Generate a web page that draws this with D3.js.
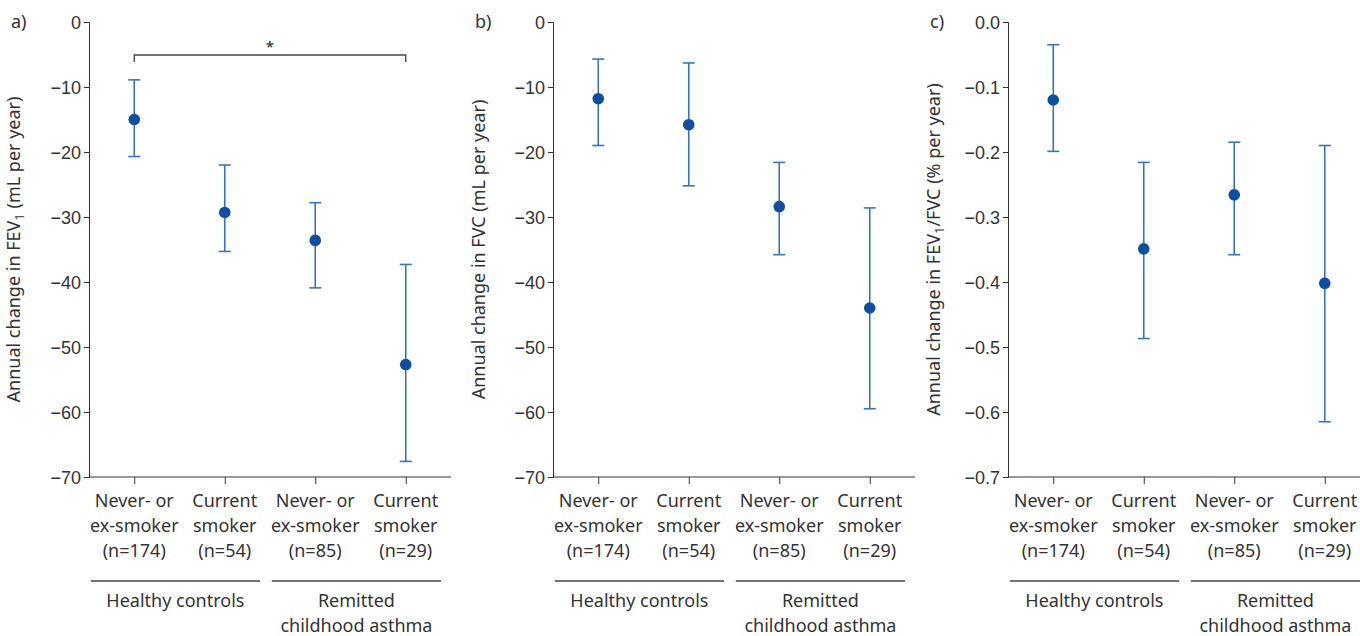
<!DOCTYPE html>
<html>
<head>
<meta charset="utf-8">
<style>
body { margin: 0; background: #fff; }
svg { font-family: "Noto Sans", sans-serif; }
.axis path, .axis line { stroke: #333; }
.axis text { fill: #333; font-size: 18px; }
</style>
</head>
<body>
<svg id="chart" width="1360" height="636"></svg>
<script src="https://d3js.org/d3.v7.min.js"></script>
<script>

// categories (each label is drawn on three lines)
const categories = ["hc_never", "hc_current", "rca_never", "rca_current"];
const catLine1 = ["Never- or", "Current", "Never- or", "Current"];
const catLine2 = ["ex-smoker", "smoker", "ex-smoker", "smoker"];
const catLine3 = ["(n=174)", "(n=54)", "(n=85)", "(n=29)"];
const groupLabels = [["Healthy controls"], ["Remitted", "childhood asthma"]];

// a) FEV1 mL per year
const fev1Mean = [-15.0, -29.3, -33.6, -52.7];
const fev1Upper = [-8.9, -22.0, -27.8, -37.3];
const fev1Lower = [-20.7, -35.3, -40.9, -67.6];

// b) FVC mL per year
const fvcMean = [-11.8, -15.8, -28.4, -44.0];
const fvcUpper = [-5.7, -6.3, -21.6, -28.6];
const fvcLower = [-19.0, -25.2, -35.8, -59.5];

// c) FEV1/FVC % per year
const ratioMean = [-0.120, -0.349, -0.266, -0.402];
const ratioUpper = [-0.035, -0.216, -0.185, -0.190];
const ratioLower = [-0.199, -0.487, -0.358, -0.615];

const mlTicks = [0, -10, -20, -30, -40, -50, -60, -70];
const pctTicks = [0, -0.1, -0.2, -0.3, -0.4, -0.5, -0.6, -0.7];

const svg = d3.select("#chart");
const yTop = 22, yBottom = 477, plotW = 362;
const errColor = "#3a74b5", dotColor = "#0f4f9b";
const fs = 18;

function panel(opts) {
    const g = svg.append("g").attr("transform", "translate(" + opts.x + ",0)");

    const x = d3.scalePoint().domain(categories).range([0, plotW]).padding(0.5);
    const y = d3.scaleLinear().domain([0, opts.min]).range([yTop, yBottom]);

    g.append("g")
        .attr("class", "axis")
        .call(d3.axisLeft(y).tickValues(opts.ticks).tickFormat(opts.fmt).tickSizeOuter(0).tickSize(5).tickPadding(3))
        .call(s => s.selectAll("text").attr("dy", "0.36em"));

    const xa = g.append("g")
        .attr("class", "axis")
        .attr("transform", "translate(0," + yBottom + ")")
        .call(d3.axisBottom(x).tickSizeOuter(0).tickSize(7).tickFormat(""));
    xa.select("path").attr("d", "M0,0H" + plotW);

    // multi-line category labels
    const lab = g.append("g").selectAll("text")
        .data(categories)
        .join("text")
        .attr("text-anchor", "middle")
        .attr("font-size", fs)
        .attr("fill", "#333");
    [catLine1, catLine2, catLine3].forEach((lines, k) => {
        lab.append("tspan")
            .attr("x", d => x(d))
            .attr("y", 507 + k * 25)
            .text((d, i) => lines[i]);
    });

    // group lines and labels
    const step = x.step();
    const grp = [[0, 1], [2, 3]];
    grp.forEach((pair, gi) => {
        const x0 = x(categories[pair[0]]) - step * 0.48;
        const x1 = x(categories[pair[1]]) + step * 0.39;
        g.append("line")
            .attr("x1", x0).attr("x2", x1)
            .attr("y1", 581).attr("y2", 581)
            .attr("stroke", "#444").attr("stroke-width", 1.5);
        const t = g.append("text")
            .attr("text-anchor", "middle")
            .attr("font-size", fs)
            .attr("fill", "#333");
        groupLabels[gi].forEach((s, k) => {
            t.append("tspan")
                .attr("x", (x0 + x1) / 2)
                .attr("y", 607 + k * 25)
                .text(s);
        });
    });

    // error bars
    const data = categories.map((c, i) => ({c: c, m: opts.mean[i], hi: opts.upper[i], lo: opts.lower[i]}));
    const eb = g.append("g").attr("stroke", errColor).attr("stroke-width", 1.6).attr("fill", "none");
    eb.selectAll(".v").data(data).join("line")
        .attr("x1", d => x(d.c)).attr("x2", d => x(d.c))
        .attr("y1", d => y(d.hi)).attr("y2", d => y(d.lo));
    eb.selectAll(".capHi").data(data).join("line").attr("class", "capHi")
        .attr("x1", d => x(d.c) - 6).attr("x2", d => x(d.c) + 6)
        .attr("y1", d => y(d.hi)).attr("y2", d => y(d.hi));
    eb.selectAll(".capLo").data(data).join("line").attr("class", "capLo")
        .attr("x1", d => x(d.c) - 6).attr("x2", d => x(d.c) + 6)
        .attr("y1", d => y(d.lo)).attr("y2", d => y(d.lo));

    g.append("g").selectAll("circle").data(data).join("circle")
        .attr("cx", d => x(d.c))
        .attr("cy", d => y(d.m))
        .attr("r", 5.8)
        .attr("fill", dotColor);

    // y axis title
    const yt = g.append("text")
        .attr("transform", "translate(" + opts.titleX + "," + (yTop + yBottom) / 2 + ") rotate(-90)")
        .attr("text-anchor", "middle")
        .attr("font-size", fs)
        .attr("fill", "#333");
    opts.title.forEach(part => {
        const ts = yt.append("tspan").text(part.t);
        if (part.sub) ts.attr("font-size", 13).attr("dy", 4);
        else if (part.after) ts.attr("dy", -4);
    });

    // panel letter
    svg.append("text")
        .attr("x", opts.x + opts.letterX)
        .attr("y", 28)
        .attr("font-size", fs)
        .attr("fill", "#333")
        .text(opts.letter);

    return {g: g, x: x, y: y};
}

const pa = panel({
    x: 89, min: -70, ticks: mlTicks, fmt: d3.format("d"),
    mean: fev1Mean, upper: fev1Upper, lower: fev1Lower,
    titleX: -69, letter: "a)", letterX: -78,
    title: [{t: "Annual change in FEV"}, {t: "1", sub: true}, {t: " (mL per year)", after: true}]
});

panel({
    x: 553, min: -70, ticks: mlTicks, fmt: d3.format("d"),
    mean: fvcMean, upper: fvcUpper, lower: fvcLower,
    titleX: -68, letter: "b)", letterX: -78,
    title: [{t: "Annual change in FVC (mL per year)"}]
});

panel({
    x: 1008, min: -0.7, ticks: pctTicks, fmt: d3.format(".1f"),
    mean: ratioMean, upper: ratioUpper, lower: ratioLower,
    titleX: -68, letter: "c)", letterX: -78,
    title: [{t: "Annual change in FEV"}, {t: "1", sub: true}, {t: "/FVC (% per year)", after: true}]
});

// significance bracket in panel a
const bx0 = pa.x(categories[0]), bx1 = pa.x(categories[3]);
pa.g.append("path")
    .attr("d", "M" + bx0 + ",62V55H" + bx1 + "V62")
    .attr("fill", "none")
    .attr("stroke", "#444")
    .attr("stroke-width", 1.3);
pa.g.append("text")
    .attr("x", (bx0 + bx1) / 2)
    .attr("y", 52)
    .attr("text-anchor", "middle")
    .attr("font-size", 15)
    .attr("fill", "#222")
    .text("*");

</script>
</body>
</html>
